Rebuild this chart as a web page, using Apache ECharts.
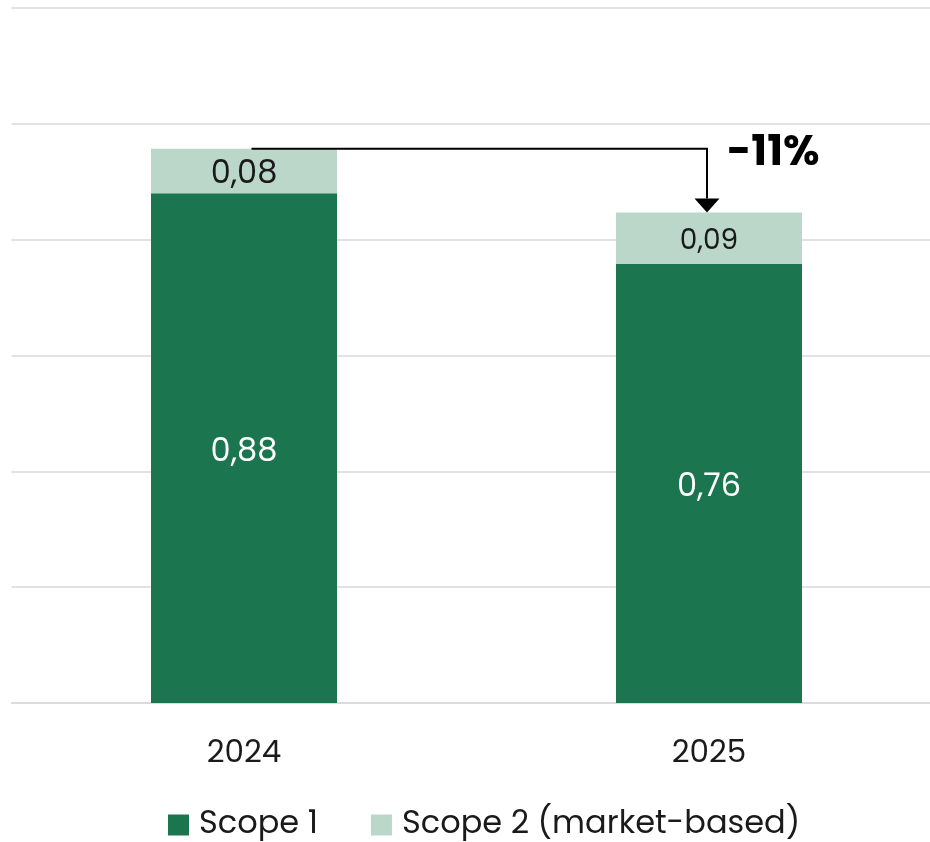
<!DOCTYPE html>
<html>
<head>
<meta charset="utf-8">
<script src="https://cdn.jsdelivr.net/npm/echarts@6/dist/echarts.min.js"></script>
<style>html,body{margin:0;padding:0;background:#fff}#c{width:930px;height:842px}</style>
</head>
<body>
<div id="c"></div>
<script>
var categories = ['2024', '2025'];
var scope1 = [0.88, 0.758];
var scope2 = [0.077, 0.089];
var changeLabel = '-11%';
var seriesNames = ['Scope 1', 'Scope 2 (market-based)'];

var FONT = 'Poppins, "Open Sans", "DejaVu Sans", sans-serif';
var fmt = function (v) { return v.toFixed(2).replace('.', ','); };
var totals = scope1.map(function (v, i) { return v + scope2[i]; });
var s2Sizes = [32, 28];

var chart = echarts.init(document.getElementById('c'));
chart.setOption({
  animation: false,
  textStyle: { fontFamily: FONT },
  grid: { left: 11.5, top: 8, width: 930, bottom: 139, containLabel: false, outerBoundsMode: 'none' },
  xAxis: {
    type: 'category',
    data: categories,
    axisLine: { show: true, lineStyle: { color: '#d9d9d9', width: 1.5 } },
    axisTick: { show: false },
    axisLabel: { color: '#1a1a1a', fontSize: 31, margin: 36, fontFamily: FONT }
  },
  yAxis: {
    type: 'value', min: 0, max: 1.2, interval: 0.2,
    axisLabel: { show: false },
    axisLine: { show: false }, axisTick: { show: false },
    splitLine: { lineStyle: { color: '#d9d9d9', width: 1.5 } }
  },
  legend: {
    top: 809, left: 168, padding: 0,
    itemWidth: 21, itemHeight: 21, itemGap: 53, icon: 'rect',
    textStyle: { fontSize: 32, color: '#1a1a1a', fontFamily: FONT, padding: [0, 0, 0, 5] },
    data: seriesNames
  },
  series: [
    {
      name: seriesNames[0], type: 'bar', stack: 'a', barWidth: '40%',
      itemStyle: { color: '#1b7650' },
      label: { show: true, position: 'inside', color: '#ffffff', fontSize: 32, fontFamily: FONT,
        offset: [0, 5],
        formatter: function (p) { return fmt(p.value); } },
      data: scope1
    },
    {
      name: seriesNames[1], type: 'bar', stack: 'a', barWidth: '40%',
      itemStyle: { color: '#bad7c9' },
      label: { show: true, position: 'inside', color: '#1a1a1a', fontFamily: FONT,
        offset: [0, 4],
        formatter: function (p) { return fmt(p.value); } },
      data: scope2.map(function (v, i) { return { value: v, label: { fontSize: s2Sizes[i] } }; })
    },
    {
      type: 'custom', silent: true, z: 10,
      data: [[0, totals[0], 1, totals[1]]],
      renderItem: function (params, api) {
        var a = api.coord([api.value(0), api.value(1)]);
        var b = api.coord([api.value(2), api.value(3)]);
        var x0 = a[0] + 7.5, y0 = a[1], x1 = b[0] - 2, tip = b[1];
        var ah = 14, aw = 12.5;
        return {
          type: 'group',
          children: [
            { type: 'polyline', shape: { points: [[x0, y0], [x1, y0], [x1, tip - ah]] },
              style: { stroke: '#000', lineWidth: 2, fill: null } },
            { type: 'polygon', shape: { points: [[x1 - aw, tip - ah], [x1 + aw, tip - ah], [x1, tip]] },
              style: { fill: '#000' } },
            { type: 'text', x: x1 + 20, y: y0 + 6,
              style: { text: changeLabel, fontSize: 42, fontWeight: 'bold', fontFamily: FONT,
                fill: '#000', textVerticalAlign: 'middle', verticalAlign: 'middle' } }
          ]
        };
      }
    }
  ]
});
</script>
</body>
</html>
